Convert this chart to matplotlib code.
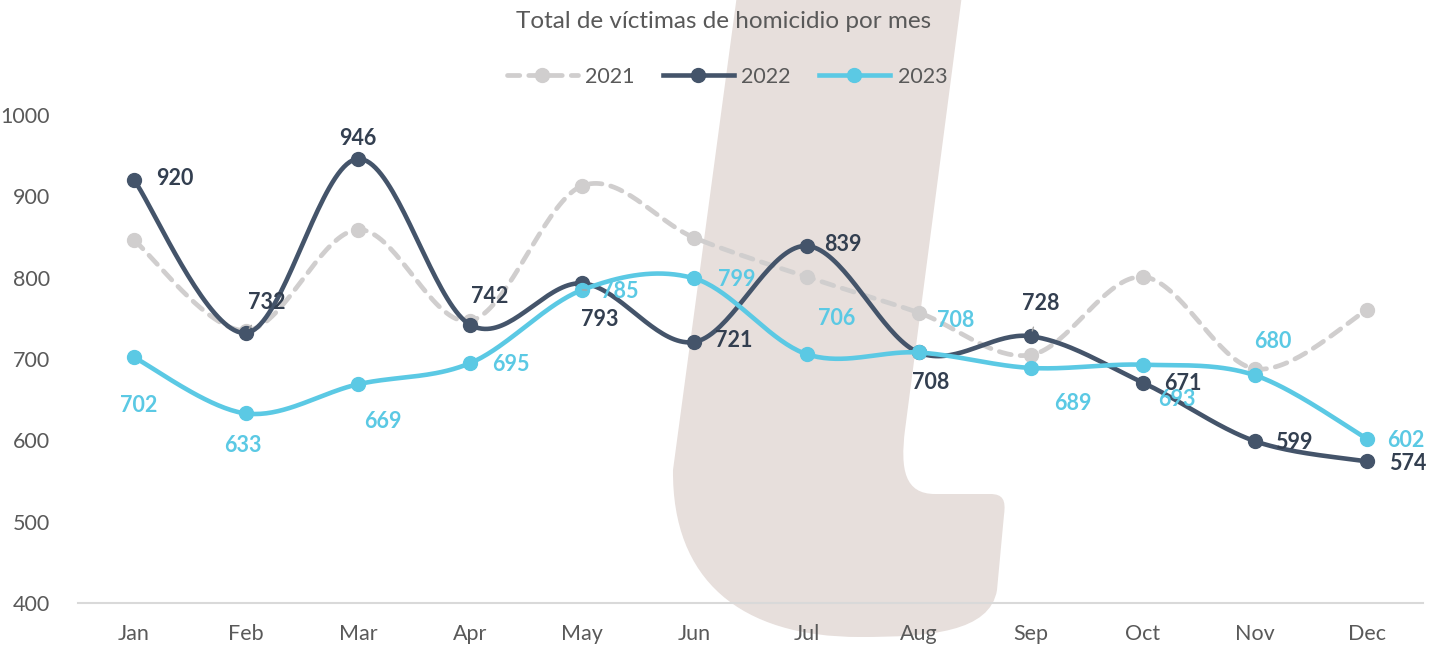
import matplotlib
matplotlib.use("Agg")
import matplotlib.pyplot as plt
import numpy as np
from matplotlib.path import Path
from matplotlib.patches import PathPatch
from matplotlib.lines import Line2D

months = ["Jan", "Feb", "Mar", "Apr", "May", "Jun", "Jul", "Aug", "Sep", "Oct", "Nov", "Dec"]
v2021 = [846, 735, 859, 747, 913, 849, 801, 757, 705, 801, 688, 760]
v2022 = [920, 732, 946, 742, 793, 721, 839, 708, 728, 671, 599, 574]
v2023 = [702, 633, 669, 695, 785, 799, 706, 708, 689, 693, 680, 602]
series_names = ["2021", "2022", "2023"]
yticks = [400, 500, 600, 700, 800, 900, 1000]
title = "Total de víctimas de homicidio por mes"

C21 = "#D0CECE"
C22 = "#44546A"
C22T = "#333F50"
C23 = "#5BC9E4"
GREY = "#595959"

plt.rcParams['font.family'] = ['Lato', 'DejaVu Sans']

W, H = 1445, 647
fig = plt.figure(figsize=(W / 100, H / 100), dpi=100)

# watermark shape (decoration) in pixel coords (y down)
def P(x, y):
    return (x / W, 1 - y / H)

verts = [P(737, -5), P(962, -5), P(905, 430),
         P(900, 470), P(905, 494), P(935, 494),
         P(990, 494),
         P(1003, 494), P(1006, 500), P(1004, 515),
         P(997, 590),
         P(990, 632), P(930, 637), P(860, 637),
         P(740, 637), P(672, 580), P(673, 470),
         P(737, -5)]
codes = [Path.MOVETO, Path.LINETO, Path.LINETO,
         Path.CURVE4, Path.CURVE4, Path.CURVE4,
         Path.LINETO,
         Path.CURVE4, Path.CURVE4, Path.CURVE4,
         Path.LINETO,
         Path.CURVE4, Path.CURVE4, Path.CURVE4,
         Path.CURVE4, Path.CURVE4, Path.CURVE4,
         Path.CLOSEPOLY]
fig.patches.append(PathPatch(Path(verts, codes), transform=fig.transFigure,
                             facecolor="#E7DFDC", edgecolor="none", zorder=-5))

ax = fig.add_axes([78 / W, (H - 603) / H, (1423 - 78) / W, (603 - 115) / H])
ax.set_facecolor("none")
ax.set_zorder(2)

x = np.arange(len(months))


def smooth(xs, ys, n=40):
    xs = np.asarray(xs, float)
    ys = np.asarray(ys, float)
    pts = np.column_stack([xs, ys])
    out = []
    m = len(pts)
    for i in range(m - 1):
        p0 = pts[max(i - 1, 0)]
        p1 = pts[i]
        p2 = pts[i + 1]
        p3 = pts[min(i + 2, m - 1)]
        c1 = p1 + (p2 - p0) / 6.0
        c2 = p2 - (p3 - p1) / 6.0
        t = np.linspace(0, 1, n)[:, None]
        seg = ((1 - t) ** 3) * p1 + 3 * ((1 - t) ** 2) * t * c1 + 3 * (1 - t) * t ** 2 * c2 + t ** 3 * p2
        if i > 0:
            seg = seg[1:]
        out.append(seg)
    out = np.vstack(out)
    return out[:, 0], out[:, 1]


sx, sy = smooth(x, v2021)
ax.plot(sx, sy, color=C21, lw=3.4, ls=(0, (2.6, 1.9)), solid_capstyle="round",
        dash_capstyle="round", zorder=2)
ax.plot(x, v2021, "o", color=C21, ms=10, zorder=2)

sx, sy = smooth(x, v2022)
ax.plot(sx, sy, color=C22, lw=3.3, zorder=3, solid_capstyle="round")
ax.plot(x, v2022, "o", color=C22, ms=10, zorder=3)

sx, sy = smooth(x, v2023)
ax.plot(sx, sy, color=C23, lw=3.3, zorder=4, solid_capstyle="round")
ax.plot(x, v2023, "o", color=C23, ms=10, zorder=4)

# label offsets (pixels, y up)
off22 = [(41, 2), (21, 30), (0, 20), (19, 28), (17, -36), (39, 1),
         (36, 1), (12, -30), (10, 33), (40, -1), (39, -1), (41, -2)]
off23 = [(5, -48), (-3, -32), (25, -37), (41, -1), (37, -2), (42, -1),
         (30, 36), (37, 32), (42, -36), (34, -35), (18, 34), (39, -2)]
lead22 = {1, 8}
lead23 = {4}

LFS = 15.5
for i, v in enumerate(v2022):
    kw = {}
    if i in lead22:
        kw["arrowprops"] = dict(arrowstyle="-", color="#A6A6A6", lw=1, shrinkA=8, shrinkB=4)
    ax.annotate(str(v), (x[i], v), xytext=off22[i], textcoords="offset pixels",
                ha="center", va="center", fontsize=LFS, fontweight="bold",
                color=C22T, zorder=6, **kw)
for i, v in enumerate(v2023):
    kw = {}
    if i in lead23:
        kw["arrowprops"] = dict(arrowstyle="-", color="#A6A6A6", lw=1, shrinkA=8, shrinkB=4)
    ax.annotate(str(v), (x[i], v), xytext=off23[i], textcoords="offset pixels",
                ha="center", va="center", fontsize=LFS, fontweight="bold",
                color=C23, zorder=6, **kw)

ax.set_xlim(-0.5, len(months) - 0.5)
ax.set_ylim(400, 1000)
ax.set_yticks(yticks)
ax.set_yticklabels([str(t) for t in yticks])
ax.set_xticks(x)
ax.set_xticklabels(months)
ax.tick_params(axis="both", length=0, labelsize=15.5, colors=GREY)
ax.tick_params(axis="y", pad=20)
ax.tick_params(axis="x", pad=15)
for s in ["top", "right", "left"]:
    ax.spines[s].set_visible(False)
ax.spines["bottom"].set_color("#D9D9D9")
ax.spines["bottom"].set_linewidth(1.5)

fig.text(724 / W, 1 - 22 / H, title, ha="center", va="center", fontsize=17.5, color=GREY)

handles = [
    Line2D([], [], color=C21, lw=3.4, ls=(0, (2.6, 1.9)), marker="o", ms=10, dash_capstyle="round"),
    Line2D([], [], color=C22, lw=3.3, marker="o", ms=10),
    Line2D([], [], color=C23, lw=3.3, marker="o", ms=10),
]
leg = fig.legend(handles, series_names, loc="center", bbox_to_anchor=(727 / W, 1 - 77 / H),
                 ncol=3, frameon=False, fontsize=15.5, handlelength=3.3, columnspacing=1.3,
                 handletextpad=0.35, labelcolor=GREY)

fig.savefig("out.png", dpi=100)
